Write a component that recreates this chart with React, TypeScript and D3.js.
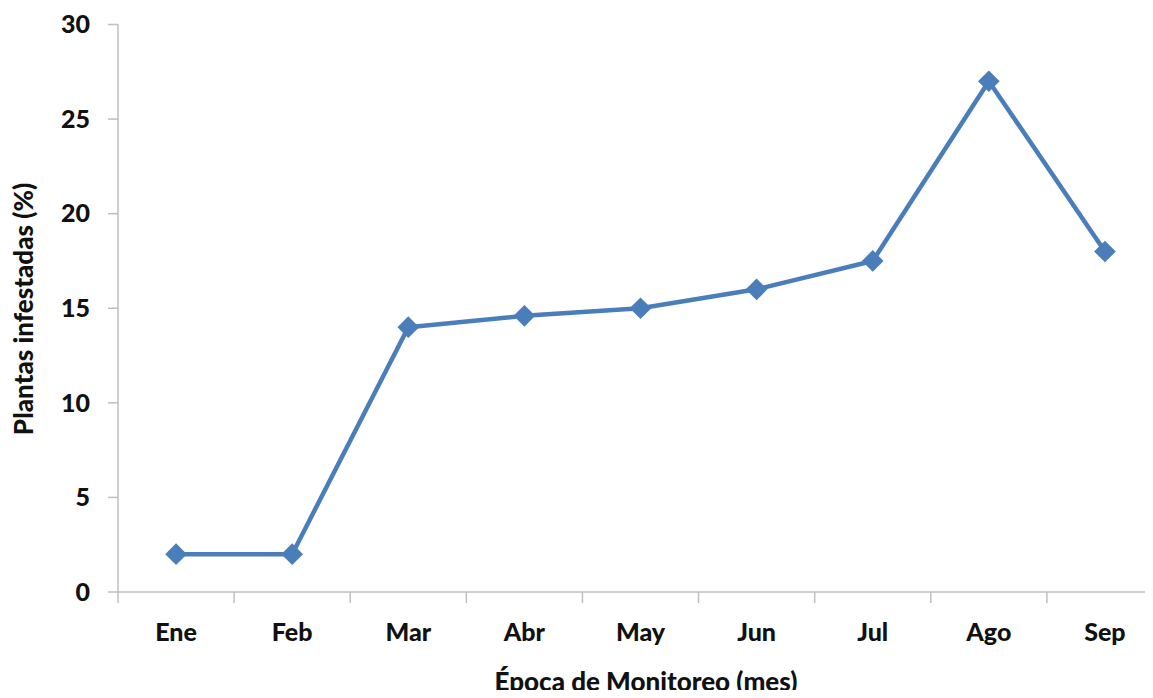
import React from 'react';
import * as d3 from 'd3';

const months = ['Ene', 'Feb', 'Mar', 'Abr', 'May', 'Jun', 'Jul', 'Ago', 'Sep'];
const infested = [2, 2, 14, 14.6, 15, 16, 17.5, 27, 18];
const yTicks = [0, 5, 10, 15, 20, 25, 30];

const W = 1153;
const H = 698;
const font = 'Lato, "Open Sans", sans-serif';

export default function App() {
  // band scale runs a bit past the right edge, like the original clip
  const x = d3.scaleBand<string>().domain(months).range([118, 1163]);
  const y = d3.scaleLinear().domain([0, 30]).range([592, 24.5]);

  const line = d3.line<number>()
    .x((d, i) => x(months[i])! + x.bandwidth() / 2)
    .y(d => y(d));

  const diamond = d3.symbol().type(d3.symbolDiamond2).size(300)();

  const bounds = [...months.map(m => x(m)!), x.range()[1]];

  return (
    <div style={{ margin: -8 }}>
      <svg width={W} height={H} style={{ display: 'block', background: '#fff' }}>
        {/* axes */}
        <line x1={118} x2={118} y1={y(30)} y2={y(0)} stroke="#bfbfbf" strokeWidth={1.5} />
        <line x1={118} x2={W} y1={y(0)} y2={y(0)} stroke="#bfbfbf" strokeWidth={1.5} />
        {yTicks.map(t => (
          <g key={t}>
            <line x1={108} x2={118} y1={y(t)} y2={y(t)} stroke="#bfbfbf" strokeWidth={1.5} />
            <text x={90} y={y(t)} dy="0.35em" textAnchor="end" fontFamily={font}
                  fontWeight="900" fontSize={25} fill="#111">{t}</text>
          </g>
        ))}
        {bounds.map((b, i) => (
          <line key={i} x1={b} x2={b} y1={y(0)} y2={y(0) + 11} stroke="#bfbfbf" strokeWidth={1.5} />
        ))}
        {months.map(m => (
          <text key={m} x={x(m)! + x.bandwidth() / 2} y={641} textAnchor="middle"
                fontFamily={font} fontWeight="900" fontSize={25} fill="#111">{m}</text>
        ))}

        {/* axis titles */}
        <text x={646} y={691} textAnchor="middle" fontFamily={font} fontWeight="900"
              fontSize={26} fill="#111">Época de Monitoreo (mes)</text>
        <text transform="translate(33,309) rotate(-90)" textAnchor="middle" fontFamily={font}
              fontWeight="900" fontSize={26} fill="#111">Plantas infestadas (%)</text>

        {/* series */}
        <path d={line(infested)!} fill="none" stroke="#4a7ebb" strokeWidth={4.5} strokeLinejoin="round" />
        {infested.map((v, i) => (
          <path key={i} d={diamond!} fill="#4a7ebb"
                transform={`translate(${x(months[i])! + x.bandwidth() / 2},${y(v)})`} />
        ))}
      </svg>
    </div>
  );
}
